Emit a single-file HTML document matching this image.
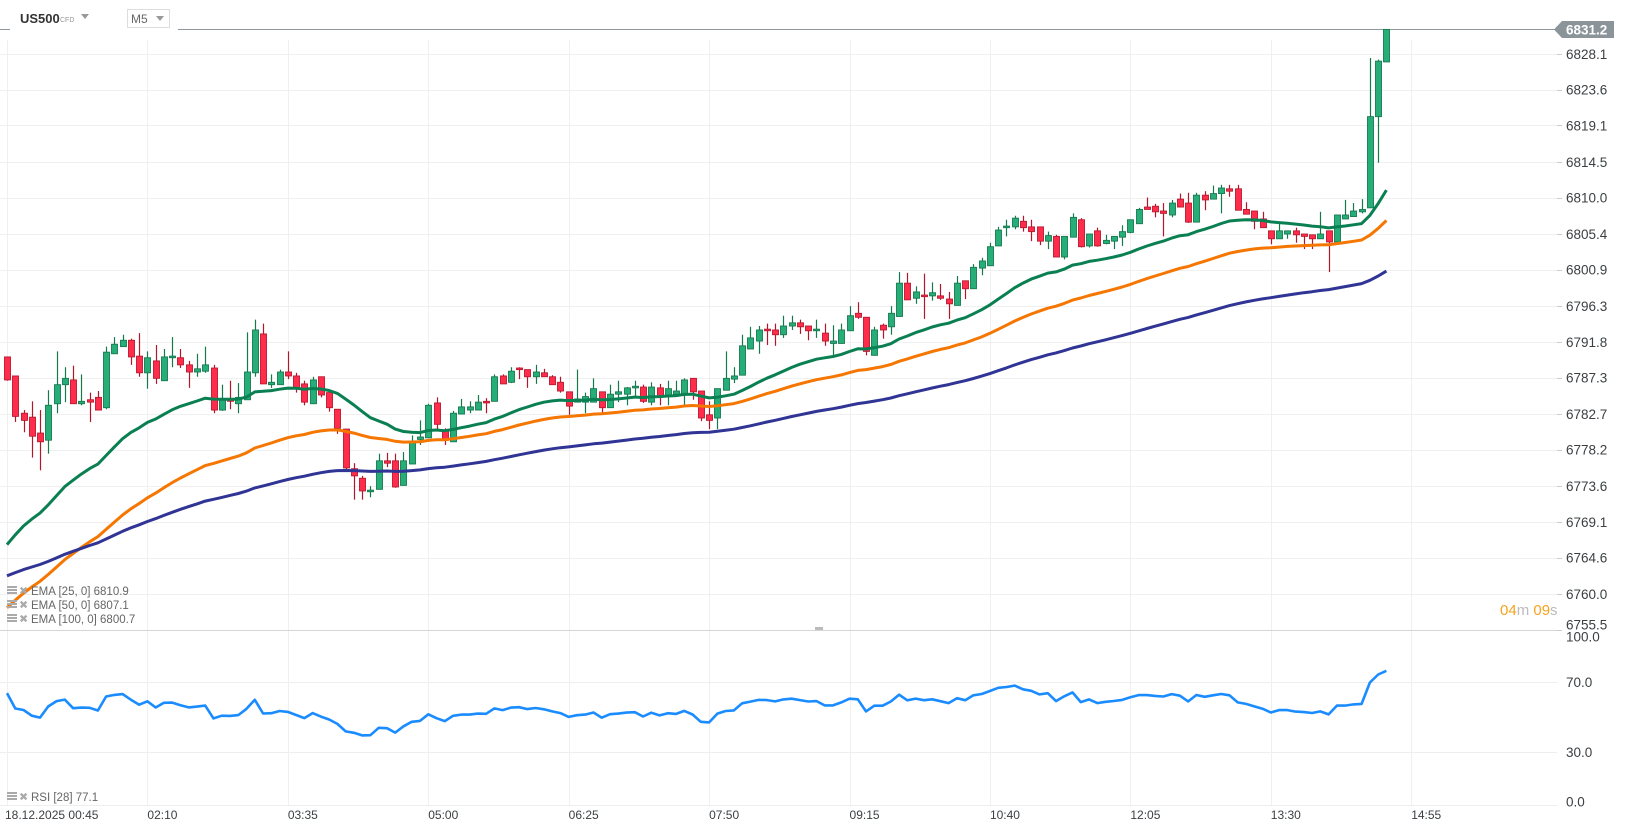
<!DOCTYPE html>
<html><head><meta charset="utf-8"><style>
html,body{margin:0;padding:0;background:#fff;}
svg{display:block;font-family:"Liberation Sans",Arial,sans-serif;}
</style></head><body>
<svg id="chart" width="1626" height="831" viewBox="0 0 1626 831">
<g id="grid"></g>
<g id="header">
  <text x="20" y="23" font-size="13" font-weight="bold" fill="#333">US500</text>
  <text x="60" y="22" font-size="7" fill="#999">CFD</text>
  <path d="M81 14 L89 14 L85 19 Z" fill="#999"/>
  <rect x="127.5" y="9.5" width="42" height="18" fill="#fff" stroke="#ddd"/>
  <text x="131" y="23" font-size="12" fill="#666">M5</text>
  <path d="M156 16 L164 16 L160 21 Z" fill="#999"/>
</g>
<g id="candles"></g>
<g id="emas"></g>
<g id="rsi"></g>
<g id="axes"></g>
<g id="legend"></g>
</svg>
<script>
const opens=[6789.9,6787.5,6782.8,6782.3,6780.3,6779.4,6784.0,6786.4,6787.0,6784.0,6784.5,6784.8,6783.5,6790.3,6791.2,6792.0,6790.0,6787.9,6789.4,6786.9,6789.8,6789.8,6788.9,6788.0,6788.1,6788.5,6783.2,6784.5,6784.0,6784.5,6787.9,6792.8,6786.4,6786.4,6788.0,6787.5,6786.5,6784.0,6787.4,6785.4,6783.3,6780.8,6775.8,6774.6,6772.9,6773.2,6776.8,6776.8,6773.7,6776.4,6779.5,6779.7,6784.1,6780.7,6779.2,6782.7,6783.2,6783.2,6784.3,6784.3,6787.5,6786.7,6788.5,6788.3,6787.4,6787.9,6787.4,6786.7,6785.5,6784.2,6784.2,6784.2,6785.5,6783.5,6785.2,6785.2,6786.0,6786.1,6784.2,6786.0,6784.9,6785.2,6785.2,6787.2,6785.6,6782.6,6782.2,6785.7,6787.1,6787.6,6790.9,6791.9,6793.4,6793.3,6792.7,6793.8,6794.2,6793.8,6793.2,6792.9,6791.6,6791.6,6793.2,6795.4,6794.9,6790.1,6793.9,6793.7,6795.0,6799.2,6797.3,6797.7,6797.6,6797.6,6797.2,6796.4,6799.5,6798.5,6801.1,6801.4,6803.9,6806.2,6806.3,6807.0,6806.3,6806.3,6804.5,6805.1,6802.5,6805.0,6807.2,6803.9,6805.8,6804.2,6804.5,6805.0,6805.6,6806.7,6808.8,6808.9,6808.3,6807.8,6809.8,6809.3,6806.9,6810.3,6809.8,6810.5,6811.1,6811.1,6808.5,6808.3,6807.3,6805.8,6804.8,6805.4,6805.8,6805.4,6805.3,6804.8,6805.8,6804.4,6807.3,6807.6,6808.2,6808.7,6820.2,6827.1];
const highs=[6789.9,6787.5,6783.2,6784.3,6783.2,6785.7,6790.6,6788.6,6788.8,6787.7,6785.4,6785.6,6791.2,6792.4,6792.7,6792.2,6792.9,6790.6,6791.4,6790.9,6792.4,6790.9,6789.4,6790.3,6791.2,6788.9,6786.4,6786.9,6786.6,6793.0,6794.6,6794.1,6787.7,6788.3,6790.6,6787.9,6786.9,6787.4,6787.4,6785.4,6783.3,6780.8,6776.5,6774.9,6773.6,6777.7,6777.8,6777.7,6777.9,6780.0,6781.9,6784.0,6784.8,6780.9,6783.1,6784.6,6784.3,6785.1,6784.7,6787.7,6787.7,6788.6,6788.6,6788.3,6788.9,6788.4,6787.6,6787.4,6785.5,6788.3,6785.4,6787.2,6785.5,6786.4,6786.9,6786.1,6786.9,6786.4,6786.7,6786.5,6786.9,6786.9,6787.2,6787.2,6785.6,6784.3,6785.9,6790.6,6788.6,6792.7,6793.7,6793.8,6794.1,6794.1,6795.1,6795.1,6794.6,6793.8,6794.6,6794.1,6793.9,6794.1,6796.3,6796.8,6794.9,6793.7,6794.1,6796.3,6800.6,6800.5,6798.8,6800.4,6799.3,6799.1,6798.1,6800.1,6799.5,6801.6,6802.4,6804.3,6806.3,6807.2,6807.7,6807.7,6807.2,6806.3,6805.7,6805.3,6805.1,6808.0,6807.4,6805.4,6806.2,6805.3,6805.1,6806.5,6807.2,6808.7,6810.0,6809.2,6809.3,6809.7,6810.5,6810.6,6810.6,6810.8,6811.5,6811.6,6811.6,6811.6,6809.4,6808.3,6808.2,6805.8,6806.7,6805.8,6806.2,6805.4,6805.3,6808.2,6805.8,6807.8,6809.7,6809.3,6809.8,6827.6,6827.4,6831.2];
const lows=[6786.9,6781.7,6780.4,6777.2,6775.6,6777.7,6782.8,6784.2,6784.0,6783.8,6781.7,6783.2,6783.3,6790.3,6791.2,6788.9,6787.4,6785.9,6786.5,6786.9,6788.6,6788.5,6786.0,6787.4,6787.9,6782.8,6783.1,6783.3,6782.8,6784.5,6787.4,6786.5,6786.0,6786.4,6787.1,6785.4,6783.8,6784.0,6784.8,6783.0,6780.2,6775.4,6771.9,6771.9,6772.2,6773.2,6776.0,6773.4,6773.7,6776.4,6778.8,6779.7,6780.8,6778.8,6779.2,6782.7,6782.8,6783.2,6782.8,6784.3,6786.5,6786.6,6787.1,6786.0,6786.5,6787.4,6786.4,6785.4,6782.6,6784.2,6782.8,6784.2,6782.8,6783.5,6784.2,6783.8,6784.8,6784.1,6783.8,6783.8,6783.8,6785.2,6783.8,6784.5,6781.8,6780.8,6780.8,6785.7,6786.6,6787.6,6790.9,6790.3,6791.4,6791.3,6792.3,6793.3,6792.8,6792.0,6792.3,6791.3,6790.1,6791.6,6793.2,6794.7,6790.1,6790.1,6792.2,6792.7,6795.0,6797.1,6796.6,6794.7,6797.0,6797.1,6794.7,6796.4,6797.2,6798.5,6800.2,6801.4,6803.9,6805.1,6806.0,6805.7,6804.5,6804.0,6803.5,6802.5,6802.2,6805.0,6803.7,6803.7,6803.8,6804.1,6803.5,6803.9,6805.5,6806.7,6808.5,6807.5,6805.1,6807.5,6808.8,6806.8,6806.9,6808.4,6809.8,6808.0,6810.1,6808.4,6807.9,6806.0,6806.2,6804.1,6804.8,6804.8,6804.3,6803.5,6803.5,6804.8,6800.6,6804.4,6807.3,6807.6,6808.0,6808.7,6814.4,6827.1];
const closes=[6787.0,6782.4,6781.9,6779.9,6779.2,6783.8,6786.4,6787.2,6784.0,6784.3,6784.2,6783.2,6790.5,6791.5,6792.0,6789.9,6787.9,6789.8,6787.2,6789.9,6790.0,6788.9,6788.0,6788.4,6788.9,6783.2,6784.5,6784.4,6784.8,6788.0,6793.3,6786.5,6786.7,6788.0,6787.5,6785.9,6784.2,6787.0,6785.1,6783.5,6780.9,6775.9,6774.9,6773.0,6773.1,6776.8,6776.5,6773.5,6776.8,6779.3,6779.8,6783.8,6781.4,6779.5,6782.8,6783.6,6783.6,6784.2,6784.1,6787.4,6786.5,6788.1,6788.3,6787.4,6788.0,6787.4,6786.4,6785.6,6783.7,6784.6,6784.9,6785.9,6783.5,6785.2,6785.5,6786.0,6786.2,6784.3,6786.1,6784.9,6785.9,6785.6,6787.0,6785.5,6782.2,6781.9,6785.9,6787.2,6787.5,6791.3,6792.3,6793.3,6793.2,6792.7,6793.8,6794.2,6793.7,6793.2,6793.4,6791.9,6791.9,6793.3,6795.1,6794.9,6790.6,6793.3,6793.3,6795.4,6799.2,6797.1,6798.1,6797.5,6798.0,6797.3,6796.6,6799.2,6798.5,6801.2,6802.0,6803.8,6805.9,6806.4,6807.4,6806.2,6805.7,6804.5,6805.2,6802.5,6805.1,6807.5,6803.8,6805.4,6803.9,6804.6,6805.1,6805.7,6807.2,6808.5,6808.5,6808.2,6808.0,6809.3,6808.8,6806.9,6810.3,6809.7,6810.5,6811.2,6810.8,6808.4,6807.9,6807.0,6806.2,6804.8,6805.8,6805.8,6805.3,6805.1,6804.8,6805.4,6804.4,6807.8,6807.8,6808.3,6808.5,6820.2,6827.2,6831.2];
const emaPeriods=[25,50,100];
const emaSeeds=[6764.5,6757.1,6761.8];
const emaLegend=["EMA  [25,  0]  6810.9","EMA  [50,  0]  6807.1","EMA  [100,  0]  6800.7"];
const rsiPeriod=28;
const rsiSeedGain=0.7;
const rsiSeedLoss=0.4;
const priceTicks=["6828.1","6823.6","6819.1","6814.5","6810.0","6805.4","6800.9","6796.3","6791.8","6787.3","6782.7","6778.2","6773.6","6769.1","6764.6","6760.0","6755.5"];
const rsiTicks=["100.0","70.0","30.0","0.0"];
const timeLabels=["18.12.2025  00:45","02:10","03:35","05:00","06:25","07:50","09:15","10:40","12:05","13:30","14:55"];
const lastPrice=6831.2;

const NS="http://www.w3.org/2000/svg";
const X0=7,DX=8.26,RIGHT=1557;
const xAt=i=>X0+i*DX;
const yP=p=>54+(6828.1-p)*7.93;
const yR=v=>804.5-v*1.75;
function mk(tag,attrs,parent){const e=document.createElementNS(NS,tag);for(const k in attrs)e.setAttribute(k,attrs[k]);parent.appendChild(e);return e;}
const G=id=>document.getElementById(id);

// grid
const grid=G('grid');
priceTicks.forEach(t=>{const y=Math.round(yP(+t))+0.5;const l=mk('line',{x1:0,x2:RIGHT,y1:y,y2:y,stroke:'#f0f0f0'},grid);

});
[70,30].forEach(v=>{const y=Math.round(yR(v))+0.5;const l=mk('line',{x1:0,x2:RIGHT,y1:y,y2:y,stroke:'#eeeeee'},grid);

});
timeLabels.forEach((t,k)=>{const x=Math.round(xAt(k*17))+0.5;const l=mk('line',{x1:x,x2:x,y1:40,y2:805,stroke:'#f0f0f0'},grid);

});
const sep=mk('line',{x1:0,x2:RIGHT,y1:630.5,y2:630.5,stroke:'#d6d6d6'},grid);


const hnd=mk('rect',{x:815,y:627,width:8,height:3,fill:'#bbb'},grid);


const bot=mk('line',{x1:0,x2:RIGHT,y1:805.5,y2:805.5,stroke:'#eeeeee'},grid);



// last price line
const ly=Math.round(yP(lastPrice))+0.5;
const pl1=mk('line',{x1:0,x2:10,y1:ly,y2:ly,stroke:'#8e979c'},grid);


const pl2=mk('line',{x1:178,x2:1556,y1:ly,y2:ly,stroke:'#8e979c'},grid);



// candles
const cg=G('candles');
for(let i=0;i<closes.length;i++){
  const up=closes[i]>=opens[i];
  const x=Math.round(xAt(i));
  const g=mk('g',{},cg);
  
  
  const wc=up?'#16794c':'#b0172d';
  mk('line',{x1:x+0.5,x2:x+0.5,y1:yP(highs[i]),y2:yP(lows[i]),stroke:wc,'stroke-width':1.2},g);
  const yt=yP(Math.max(opens[i],closes[i])),yb=yP(Math.min(opens[i],closes[i]));
  mk('rect',{x:x-2.5,y:yt,width:6,height:Math.max(1.5,yb-yt),fill:up?'#26ad78':'#ff2d4b',stroke:up?'#177a4f':'#b8192f','stroke-width':0.9},g);
}

// EMAs
const eg=G('emas');
const emaColors=['#0a7f52','#f57600','#2f3495'];
emaPeriods.forEach((p,k)=>{
  const a=2/(p+1);let e=emaSeeds[k];const pts=[];
  for(let i=0;i<closes.length;i++){e=e+a*(closes[i]-e);pts.push(xAt(i).toFixed(1)+','+yP(e).toFixed(1));}
  const pl=mk('polyline',{points:pts.join(' '),fill:'none',stroke:emaColors[k],'stroke-width':3,'stroke-linejoin':'round'},eg);
  
  
});

// RSI
const rg=G('rsi');
let ag=rsiSeedGain,al=rsiSeedLoss;const rpts=[];
for(let i=0;i<closes.length;i++){
  const d=i===0?0:closes[i]-closes[i-1];
  ag=(ag*(rsiPeriod-1)+Math.max(d,0))/rsiPeriod;
  al=(al*(rsiPeriod-1)+Math.max(-d,0))/rsiPeriod;
  const r=100-100/(1+ag/al);
  rpts.push(xAt(i).toFixed(1)+','+yR(r).toFixed(1));
}
const rl=mk('polyline',{points:rpts.join(' '),fill:'none',stroke:'#1a8cff','stroke-width':2.6,'stroke-linejoin':'round'},rg);



// axes
const ax=G('axes');
priceTicks.forEach((t,k)=>{
  const y=yP(+t);
  const tk=mk('line',{x1:RIGHT,x2:1562,y1:Math.round(y)+0.5,y2:Math.round(y)+0.5,stroke:'#ccc'},ax);
  
  
  const tx=mk('text',{x:1566,y:(k===priceTicks.length-1?y:y+5),'font-size':13.5,fill:'#3c4043'},ax);
  tx.textContent=t;
  
  
});
rsiTicks.forEach((t,k)=>{
  const y=yR(+t);let by=y+5;if(k===0)by=y+12;if(k===rsiTicks.length-1)by=y+2;
  const tx=mk('text',{x:1566,y:by,'font-size':13.5,fill:'#3c4043'},ax);
  tx.textContent=t;
  
  
});
timeLabels.forEach((t,k)=>{
  const x=k===0?5:xAt(k*17);
  const tx=mk('text',{x:x,y:819,'font-size':12,fill:'#3c4043','xml:space':'preserve'},ax);
  tx.textContent=t;
  
  
});
// last price tag
const tag=mk('path',{d:`M1554 ${ly} L1562 ${ly-8.5} L1614 ${ly-8.5} L1614 ${ly+8.5} L1562 ${ly+8.5} Z`,fill:'#8a9499'},ax);


const tt=mk('text',{x:1566,y:ly+5,'font-size':13.5,fill:'#fff','font-weight':'bold'},ax);
tt.textContent=lastPrice.toFixed(1);


// countdown
const cd=mk('text',{x:1500,y:615,'font-size':15},ax);


[['04','#f7a21b'],['m ','#bbbbbb'],['09','#f7a21b'],['s','#bbbbbb']].forEach(([s,c])=>{const ts=mk('tspan',{fill:c,'xml:space':'preserve'},cd);ts.textContent=s;});

// legend
const lg=G('legend');
function legendRow(y,label,name){
  const g=mk('g',{},lg);
  
  
  mk('rect',{x:7,y:y-9,width:10,height:2,fill:'#aaa'},g);
  mk('rect',{x:7,y:y-6,width:10,height:2,fill:'#aaa'},g);
  mk('rect',{x:7,y:y-3,width:10,height:2,fill:'#aaa'},g);
  const x=mk('text',{x:19,y:y-0.5,'font-size':11,fill:'#aaa','font-family':'DejaVu Sans'},g);x.textContent='✖';
  const t=mk('text',{x:31,y:y,'font-size':11.5,fill:'#666','xml:space':'preserve'},g);t.textContent=label;
}
emaLegend.forEach((l,k)=>legendRow(595+k*14,l,'ema-'+emaPeriods[k]+'-legend'));
legendRow(801,'RSI  [28]  77.1','rsi-legend');
</script>
</body></html>
